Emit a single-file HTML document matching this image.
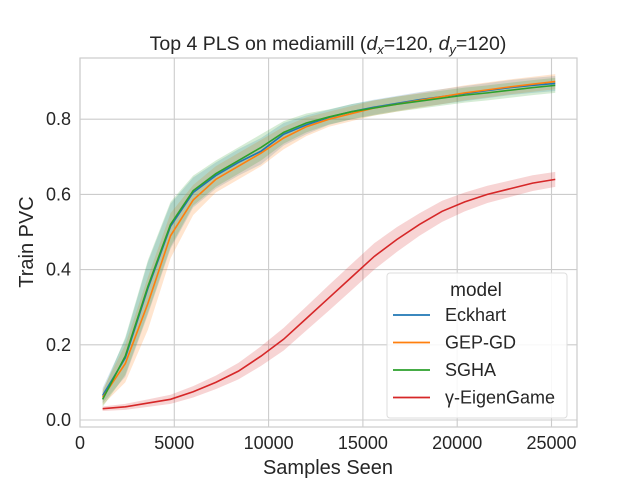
<!DOCTYPE html>
<html><head><meta charset="utf-8"><style>
body{margin:0;background:#fff;font-family:"Liberation Sans","DejaVu Sans",sans-serif}
svg text{font-family:"Liberation Sans","DejaVu Sans",sans-serif;fill:#262626}
</style></head><body>
<svg id="chart" width="640" height="480">
<rect x="80" y="58" width="497" height="369" fill="#fff" stroke="#ccc" stroke-width="1.2"/>
<g id="grid"></g><g id="bands"></g><g id="lines"></g><g id="ticks"></g>
<text x="328" y="50" text-anchor="middle" font-size="19.5">Top 4 PLS on mediamill (<tspan font-style="italic">d</tspan><tspan font-size="13" dy="4" font-style="italic">x</tspan><tspan dy="-4">=120, </tspan><tspan font-style="italic">d</tspan><tspan font-size="13" dy="4" font-style="italic">y</tspan><tspan dy="-4">=120)</tspan></text>
<text x="328" y="474" text-anchor="middle" font-size="20">Samples Seen</text>
<text transform="translate(33,242) rotate(-90)" text-anchor="middle" font-size="20">Train PVC</text>
<g>
<rect x="387" y="273" width="180" height="145" rx="3" fill="#fff" fill-opacity="0.85" stroke="#ddd"/>
<text x="476" y="296" text-anchor="middle" font-size="19">model</text>
<g id="legend-entries"></g>
</g>
</svg>
<script>
const xs=[1200,2400,3600,4800,6000,7200,8400,9600,10800,12000,13200,14400,15600,16800,18000,19200,20400,21600,22800,24000,25200];
const seriesNames=["Eckhart","GEP-GD","SGHA","γ-EigenGame"];
const eckhart=[0.065,0.165,0.35,0.515,0.605,0.65,0.685,0.715,0.76,0.785,0.805,0.82,0.832,0.842,0.852,0.86,0.868,0.876,0.884,0.89,0.895];
const gepgd=[0.06,0.15,0.31,0.49,0.585,0.64,0.675,0.71,0.75,0.78,0.80,0.815,0.83,0.84,0.85,0.86,0.87,0.878,0.886,0.893,0.9];
const sgha=[0.055,0.17,0.355,0.52,0.61,0.655,0.69,0.725,0.765,0.79,0.806,0.82,0.83,0.84,0.848,0.856,0.864,0.87,0.877,0.884,0.89];
const eigengame=[0.03,0.035,0.045,0.055,0.075,0.1,0.13,0.17,0.215,0.27,0.325,0.38,0.435,0.48,0.52,0.555,0.58,0.6,0.615,0.63,0.64];
const bandTop=[0.02,0.05,0.07,0.06,0.04,0.035,0.035,0.035,0.03,0.025,0.02,0.02,0.02,0.02,0.02,0.02,0.02,0.02,0.02,0.02,0.02];
const bandRed=[0.006,0.008,0.01,0.012,0.015,0.018,0.022,0.026,0.03,0.032,0.034,0.035,0.035,0.033,0.03,0.028,0.025,0.023,0.022,0.021,0.02];
const xTicks=[0,5000,10000,15000,20000,25000];
const yTicks=[0.0,0.2,0.4,0.6,0.8];
const colors=["#1f77b4","#ff7f0e","#2ca02c","#d62728"];
const NS="http://www.w3.org/2000/svg";
const X=v=>80+v*(94.3/5000);
const Y=v=>420-v*(75.2/0.2);
function mk(tag,attrs,parent){const e=document.createElementNS(NS,tag);for(const k in attrs)e.setAttribute(k,attrs[k]);parent.appendChild(e);return e;}
const grid=document.getElementById('grid'),ticks=document.getElementById('ticks');
xTicks.forEach(t=>{
 const l=mk('line',{x1:X(t),x2:X(t),y1:58,y2:427,stroke:'#ccc','stroke-width':1.1},grid);
 
 
 const tx=mk('text',{x:X(t),y:449,'text-anchor':'middle','font-size':18},ticks);
 tx.textContent=String(t);
 
 
});
yTicks.forEach(t=>{
 const l=mk('line',{x1:80,x2:577,y1:Y(t),y2:Y(t),stroke:'#ccc','stroke-width':1.1},grid);
 
 
 const tx=mk('text',{x:71,y:Y(t)+6,'text-anchor':'end','font-size':18},ticks);
 tx.textContent=t.toFixed(1);
 
 
});
const all=[eckhart,gepgd,sgha,eigengame];
const bands=document.getElementById('bands'),lines=document.getElementById('lines');
all.forEach((s,i)=>{
 const w=i===3?bandRed:bandTop;
 const up=xs.map((x,j)=>X(x)+','+Y(s[j]+w[j]));
 const dn=xs.map((x,j)=>X(x)+','+Y(s[j]-w[j])).reverse();
 const b=mk('polygon',{points:up.concat(dn).join(' '),fill:colors[i],'fill-opacity':0.2,stroke:'none'},bands);
 
 
 const p=mk('polyline',{points:xs.map((x,j)=>X(x)+','+Y(s[j])).join(' '),fill:'none',stroke:colors[i],'stroke-width':1.6},lines);
 
 
});
const le=document.getElementById('legend-entries');
seriesNames.forEach((n,i)=>{
 const y=315+i*27.5;
 const l=mk('line',{x1:393,x2:430,y1:y,y2:y,stroke:colors[i],'stroke-width':1.8},le);
 
 
 const t=mk('text',{x:445,y:y+6,'font-size':18},le);
 t.textContent=n;
 
 
});
</script>
</body></html>
